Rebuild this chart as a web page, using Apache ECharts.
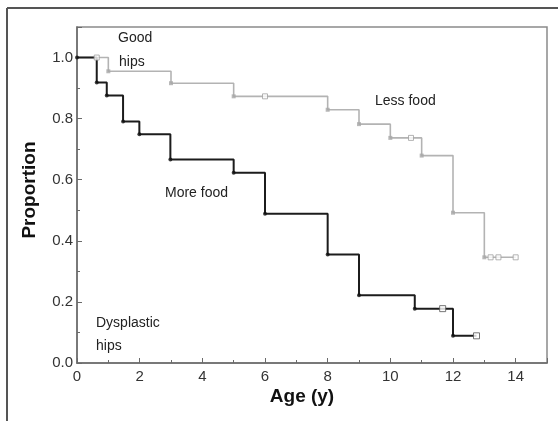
<!DOCTYPE html>
<html>
<head>
<meta charset="utf-8">
<script src="https://cdn.jsdelivr.net/npm/echarts@6/dist/echarts.min.js"></script>
<style>
  html, body { margin: 0; padding: 0; background: #fff; }
  #chart { width: 558px; height: 421px; }
</style>
</head>
<body>
<div id="chart"></div>
<script>
// Less food (gray) : drop times and survival after each drop
var lessTimes = [0, 1.0, 3, 5, 8, 9, 10, 11, 12, 13];
var lessSurv = [1.0, 0.955, 0.916, 0.873, 0.829, 0.782, 0.737, 0.679, 0.492, 0.346];
var lessCensored = [0.63, 6, 10.66, 13.2, 13.45, 14];
var lessEnd = 14;

// More food (black)
var moreTimes = [0, 0.63, 0.95, 1.47, 1.99, 2.98, 5, 6, 8, 9, 10.78, 12];
var moreSurv = [1.0, 0.918, 0.876, 0.791, 0.749, 0.666, 0.623, 0.489, 0.355, 0.222, 0.178, 0.089];
var moreCensored = [11.67, 12.75];
var moreEnd = 12.75;

var labels = ["Good", "hips", "Less food", "More food", "Dysplastic", "hips"];

function stepData(times, surv, end) {
  var d = times.map(function (t, i) { return [t, surv[i]]; });
  d.push([end, surv[surv.length - 1]]);
  return d;
}

function dropPoints(times, surv) {
  return times.map(function (t, i) { return [t, surv[i]]; });
}

// survival value at time t (for censored marks)
function survAt(times, surv, t) {
  var s = surv[0];
  for (var i = 0; i < times.length; i++) {
    if (times[i] <= t) s = surv[i];
  }
  return s;
}

function censoredPoints(times, surv, cens) {
  return cens.map(function (t) { return [t, survAt(times, surv, t)]; });
}

var GRAY = "#b3b3b3";
var BLACK = "#1c1c1c";

var myChart = echarts.init(document.getElementById("chart"));
var option = {
  animation: false,
  grid: {
    left: 77,
    top: 27,
    right: 11,
    bottom: 58,
    show: true,
    borderColor: "#8a8a8a",
    borderWidth: 1.5,
  },
  xAxis: {
    type: "value",
    min: 0,
    max: 15,
    interval: 2,
    splitLine: { show: false },
    axisLine: { lineStyle: { color: "#6a6a6a", width: 1.5 } },
    axisTick: { inside: true, length: 5, lineStyle: { color: "#6a6a6a" } },
    minorTick: { show: true, splitNumber: 2, length: 3, lineStyle: { color: "#6a6a6a" } },
    axisLabel: {
      showMaxLabel: false,
      color: "#333",
      fontSize: 15,
      fontFamily: "Liberation Sans",
      margin: 6,
    },
  },
  yAxis: {
    type: "value",
    min: 0,
    max: 1.1,
    interval: 0.2,
    splitLine: { show: false },
    axisLine: { show: true, lineStyle: { color: "#6a6a6a", width: 1.5 } },
    axisTick: { show: true, inside: true, length: 5, lineStyle: { color: "#6a6a6a" } },
    minorTick: { show: true, splitNumber: 2, length: 3, lineStyle: { color: "#6a6a6a" } },
    axisLabel: {
      showMaxLabel: false,
      color: "#333",
      fontSize: 15,
      fontFamily: "Liberation Sans",
      margin: 4,
      formatter: function (v) { return v.toFixed(1); },
    },
  },
  graphic: [
    { type: "line", shape: { x1: 7, y1: 8, x2: 558, y2: 8 }, style: { stroke: "#555", lineWidth: 2 } },
    { type: "line", shape: { x1: 7, y1: 8, x2: 7, y2: 421 }, style: { stroke: "#555", lineWidth: 2 } },
    { type: "text", x: 118, y: 38, style: { text: labels[0], font: "14px 'Liberation Sans'", fill: "#222", verticalAlign: "middle" } },
    { type: "text", x: 119, y: 62, style: { text: labels[1], font: "14px 'Liberation Sans'", fill: "#222", verticalAlign: "middle" } },
    { type: "text", x: 375, y: 101, style: { text: labels[2], font: "14px 'Liberation Sans'", fill: "#222", verticalAlign: "middle" } },
    { type: "text", x: 165, y: 193, style: { text: labels[3], font: "14px 'Liberation Sans'", fill: "#222", verticalAlign: "middle" } },
    { type: "text", x: 96, y: 323, style: { text: labels[4], font: "14px 'Liberation Sans'", fill: "#222", verticalAlign: "middle" } },
    { type: "text", x: 96, y: 346, style: { text: labels[5], font: "14px 'Liberation Sans'", fill: "#222", verticalAlign: "middle" } },
    {
      type: "text", x: 30, y: 190, rotation: Math.PI / 2,
      style: { text: "Proportion", font: "bold 19px 'Liberation Sans'", fill: "#111", align: "center", verticalAlign: "middle" },
    },
    {
      type: "text", x: 302, y: 397,
      style: { text: "Age (y)", font: "bold 19px 'Liberation Sans'", fill: "#111", align: "center", verticalAlign: "middle" },
    },
  ],
  series: [
    {
      name: "Less food",
      type: "line",
      step: "end",
      symbol: "none",
      data: stepData(lessTimes, lessSurv, lessEnd),
      lineStyle: { color: GRAY, width: 1.6 },
      z: 2,
    },
    {
      name: "More food",
      type: "line",
      step: "end",
      symbol: "none",
      data: stepData(moreTimes, moreSurv, moreEnd),
      lineStyle: { color: BLACK, width: 2 },
      z: 3,
    },
    {
      type: "scatter",
      symbol: "rect",
      symbolSize: 4,
      data: dropPoints(lessTimes, lessSurv).slice(1),
      itemStyle: { color: "#a8a8a8" },
      z: 4,
    },
    {
      type: "scatter",
      symbol: "rect",
      symbolSize: 5,
      data: censoredPoints(lessTimes, lessSurv, lessCensored),
      itemStyle: { color: "#fff", borderColor: "#a0a0a0", borderWidth: 1 },
      z: 4,
    },
    {
      type: "scatter",
      symbol: "circle",
      symbolSize: 4,
      data: dropPoints(moreTimes, moreSurv),
      itemStyle: { color: "#111" },
      z: 5,
    },
    {
      type: "scatter",
      symbol: "rect",
      symbolSize: 6,
      data: censoredPoints(moreTimes, moreSurv, moreCensored),
      itemStyle: { color: "#fff", borderColor: "#555", borderWidth: 1 },
      z: 5,
    },
  ],
};
myChart.setOption(option);
</script>
</body>
</html>
